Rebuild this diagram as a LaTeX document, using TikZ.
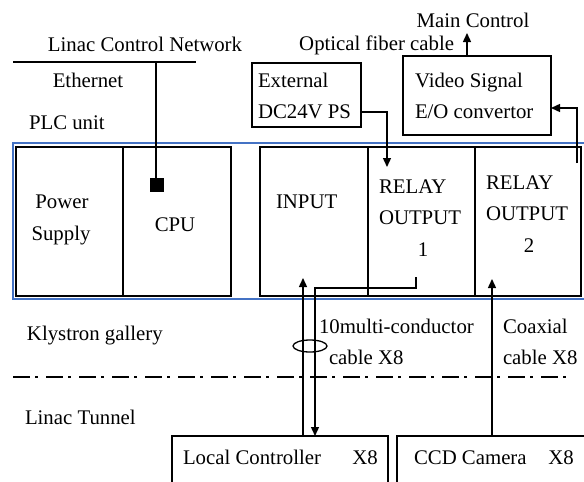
\documentclass[tikz,border=0pt]{standalone}
\usepackage{fontspec}
\setmainfont{Liberation Serif}
\usetikzlibrary{arrows.meta,shapes.geometric}
\definecolor{plcblue}{RGB}{68,114,196}
\begin{document}
\begin{tikzpicture}[x=1pt,y=-1pt,
  txt/.style={inner sep=0pt,outer sep=0pt,font=\fontsize{20.8pt}{25pt}\selectfont},
  box/.style={draw,line width=1.5pt,inner sep=0pt,outer sep=0pt,anchor=north west},
  wire/.style={line width=1.4pt},
  arr/.style={wire,-{Triangle[length=9pt,width=8pt]}},
  bluebox/.style={draw=plcblue,line width=1.3pt},
  border/.style={line width=2pt,dash pattern=on 17pt off 5pt on 3pt off 8pt}]
\useasboundingbox (0,0) rectangle (584,482);
\clip (0,0) rectangle (584,482);

% PLC unit outline
\draw[bluebox] (600,143) -- (13,143) -- (13,299) -- (600,299);

% modules
\node[box,minimum width=107pt,minimum height=149pt] (ps) at (16,147) {};
\node[box,minimum width=108pt,minimum height=149pt] (cpu) at (123,147) {};
\node[box,minimum width=108pt,minimum height=149pt] (inp) at (260,147) {};
\node[box,minimum width=107pt,minimum height=149pt] (ro1) at (368,147) {};
\node[box,minimum width=106pt,minimum height=149pt] (ro2) at (475,147) {};
\node[box,minimum width=109pt,minimum height=64pt] (ext) at (252,63) {};
\node[box,minimum width=148pt,minimum height=79pt] (vid) at (403,56) {};
\node[box,minimum width=216pt,minimum height=70pt] (lc) at (172,436) {};
\node[box,minimum width=210pt,minimum height=70pt] (ccd) at (397,436) {};

% texts
\node[txt,anchor=base] (lcn) at (145,51) {Linac Control Network};
\node[txt,anchor=base] (eth) at (88,87) {Ethernet};
\node[txt,anchor=base west] (plc) at (29,129) {PLC unit};
\node[txt,anchor=base west] (extt1) at (258,87) {External};
\node[txt,anchor=base west] (extt2) at (258,118) {DC24V PS};
\node[txt,anchor=base east] (ofc) at (454,50) {Optical fiber cable};
\node[txt,anchor=base] (mc) at (473,27) {Main Control};
\node[txt,anchor=base west] (vidt1) at (415,87) {Video Signal};
\node[txt,anchor=base west] (vidt2) at (415,118) {E/O convertor};
\node[txt,anchor=base] (pst1) at (62,208) {Power};
\node[txt,anchor=base] (pst2) at (61,240) {Supply};
\node[txt,anchor=base] (cput) at (175,231) {CPU};
\node[txt,anchor=base west] (inpt) at (276,208) {INPUT};
\node[txt,anchor=base west] (ro1t1) at (379,193) {RELAY};
\node[txt,anchor=base west] (ro1t2) at (379,224) {OUTPUT};
\node[txt,anchor=base] (ro1t3) at (423,256) {1};
\node[txt,anchor=base west] (ro2t1) at (486,189) {RELAY};
\node[txt,anchor=base west] (ro2t2) at (486,220) {OUTPUT};
\node[txt,anchor=base] (ro2t3) at (529,252) {2};
\node[txt,anchor=base west] (kg) at (27,340) {Klystron gallery};
\node[txt,anchor=base west] (lt) at (25,424) {Linac Tunnel};
\node[txt,anchor=base west] (mcc1) at (319,333) {10multi-conductor};
\node[txt,anchor=base west] (mcc2) at (329,364) {cable X8};
\node[txt,anchor=base west] (cx1) at (503,333) {Coaxial};
\node[txt,anchor=base west] (cx2) at (503,364) {cable X8};
\node[txt,anchor=base west] (lct) at (183,464) {Local Controller};
\node[txt,anchor=base] (lcx) at (365,464) {X8};
\node[txt,anchor=base west] (ccdt) at (414,464) {CCD Camera};
\node[txt,anchor=base] (ccdx) at (561,464) {X8};

% Ethernet
\coordinate (ethL) at (13,62);
\coordinate (ethR) at (196,62);
\coordinate (ethT) at (156,62);
\node[fill=black,minimum size=14pt,inner sep=0pt,outer sep=0pt] (port) at (157,185) {};
\draw[wire] (ethL) -- (ethR);
\draw[wire] (ethT) -- (ethT |- port.north);

% power to relay output 1
\coordinate (extout) at (361,112);
\coordinate (ro1in) at (387,167);
\draw[arr] (extout) -| (ro1in);

% relay output 2 to video converter
\coordinate (ro2out) at (577,163);
\coordinate (vidin) at (551,108);
\draw[arr] (ro2out) |- (vidin);

% to main control
\coordinate (main) at (467,33);
\draw[arr] (main |- vid.north) -- (main);

% local controller to input
\coordinate (inpin) at (303,278);
\draw[arr] (inpin |- lc.north) -- (inpin);

% relay output 1 to local controller
\coordinate (ro1out) at (416,277);
\coordinate (lcin) at (315,436);
\draw[arr] (ro1out) -- ++(0,11) -| (lcin);

% CCD to relay output 2
\coordinate (ro2in) at (492,279);
\draw[arr] (ro2in |- ccd.north) -- (ro2in);

% cable bundle
\node[draw,ellipse,line width=1.3pt,minimum width=34pt,minimum height=12pt,inner sep=0pt] (bundle) at (310,346) {};

% gallery / tunnel border
\coordinate (bL) at (13,377);
\coordinate (bR) at (567,377);
\draw[border] (bL) -- (bR);
\end{tikzpicture}
\end{document}
